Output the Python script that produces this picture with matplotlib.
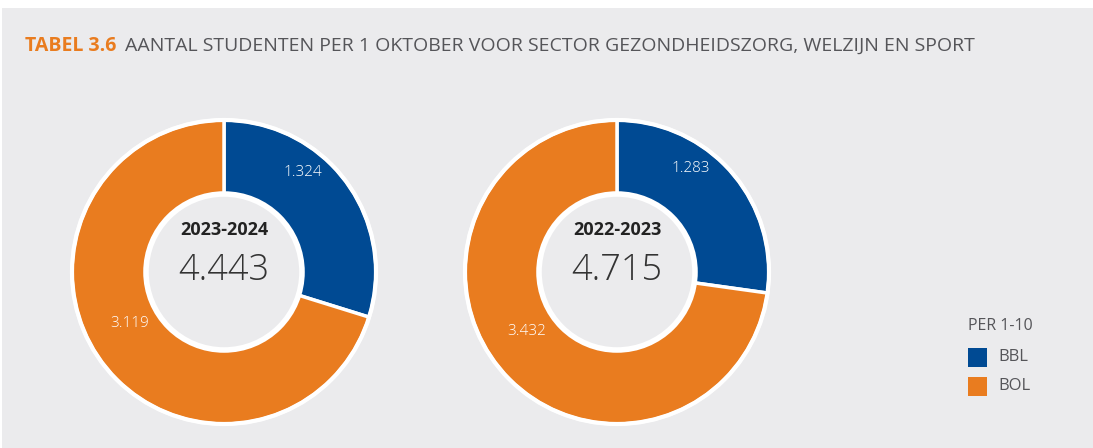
import numpy as np
import matplotlib.pyplot as plt
from matplotlib.patches import Rectangle, Circle

plt.rcParams['font.family'] = ['Open Sans', 'DejaVu Sans']

# data
years = ["2023-2024", "2022-2023"]
bbl = [1324, 1283]
bol = [3119, 3432]
series = ["BBL", "BOL"]
legend_title = "PER 1-10"
title_tag = "TABEL 3.6"
title_text = "AANTAL STUDENTEN PER 1 OKTOBER VOOR SECTOR GEZONDHEIDSZORG, WELZIJN EN SPORT"

blue = "#004A93"
orange = "#E97C1F"
panel = "#EBEBED"
grey_txt = "#555559"

def fmt(v):
    return f"{v:,}".replace(",", ".")

W, H = 1093, 448
fig = plt.figure(figsize=(W / 100, H / 100), dpi=100)
ax = fig.add_axes([0, 0, 1, 1])
ax.set_xlim(0, W)
ax.set_ylim(0, H)
ax.set_aspect('equal')
ax.axis('off')

# grey panel
ax.add_patch(Rectangle((2, 0), W, H - 8, facecolor=panel, edgecolor='none', zorder=0))

# title
t1 = ax.text(25, H - 46, title_tag, color=orange, fontsize=14, fontweight='bold', va='center')
fig.canvas.draw()
bb = t1.get_window_extent()
ax.text(bb.x1 + 9, H - 46, title_text, color=grey_txt, fontsize=14, va='center')

centers = [(224, H - 272), (617, H - 272)]
R_out, R_in = 152, 78

for (cx, cy), yr, b, o in zip(centers, years, bbl, bol):
    vals = [b, o]
    total = b + o
    ax.pie(vals, colors=[blue, orange], startangle=90, counterclock=False,
           radius=R_out, center=(cx, cy), frame=True,
           wedgeprops=dict(width=R_out - R_in + 4, edgecolor='white', linewidth=2.5))
    ax.add_patch(Circle((cx, cy), R_out, facecolor='none', edgecolor='white', lw=3, zorder=3))
    ax.add_patch(Circle((cx, cy), R_in, facecolor=panel, edgecolor='white', lw=4, zorder=3))
    # wedge labels
    frac_b = b / total
    ang_b = np.deg2rad(90 - 0.36 * frac_b * 360)
    ax.text(cx + 127 * np.cos(ang_b), cy + 127 * np.sin(ang_b), fmt(b), color='white',
            fontsize=11, fontweight='light', ha='center', va='center', zorder=4)
    ang_o = np.deg2rad(90 - frac_b * 360 - 0.53 * (1 - frac_b) * 360)
    ax.text(cx + 108 * np.cos(ang_o), cy + 108 * np.sin(ang_o), fmt(o), color='white',
            fontsize=11, fontweight='light', ha='center', va='center', zorder=4)
    # center labels
    ax.text(cx, cy + 42, yr, color='#222222', fontsize=13, fontweight='bold',
            ha='center', va='center', zorder=4)
    ax.text(cx, cy + 2, fmt(total), color='#333333', fontsize=26, fontweight='light',
            ha='center', va='center', zorder=4)

ax.set_xlim(0, W)
ax.set_ylim(0, H)
ax.axis('off')

# legend
ax.text(968, H - 326, legend_title, color=grey_txt, fontsize=11.5, va='center')
for i, (s, c) in enumerate(zip(series, [blue, orange])):
    y = H - 357 - i * 29
    ax.add_patch(Rectangle((968, y - 9.5), 19, 19, facecolor=c, edgecolor='none'))
    ax.text(998, y, s, color=grey_txt, fontsize=12, va='center')

fig.savefig("out.png", dpi=100)
